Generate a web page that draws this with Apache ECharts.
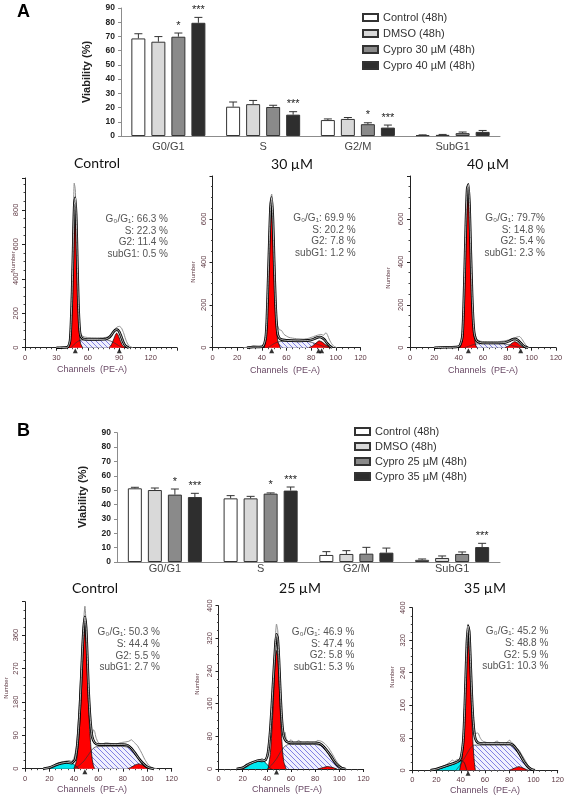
<!DOCTYPE html>
<html><head><meta charset="utf-8">
<script src="https://cdn.jsdelivr.net/npm/echarts@6/dist/echarts.min.js"></script>
<style>html,body{margin:0;padding:0;background:#fff}#c{width:567px;height:799px}</style>
</head><body><div id="c"></div><script>
// ---------------- Bar chart data ----------------
const phases = ['G0/G1', 'S', 'G2/M', 'SubG1'];
const namesA = ['Control (48h)', 'DMSO (48h)', 'Cypro 30 µM (48h)', 'Cypro 40 µM (48h)'];
const namesB = ['Control (48h)', 'DMSO (48h)', 'Cypro 25 µM (48h)', 'Cypro 35 µM (48h)'];
const yTicksBar = [0, 10, 20, 30, 40, 50, 60, 70, 80, 90];

const aControl = [68.6, 20.6, 11.2, 0.6];
const aControlErr = [3.3, 3.3, 0.8, 0.2];
const aDMSO = [66.3, 22.4, 12.0, 0.8];
const aDMSOErr = [3.6, 2.6, 1.0, 0.3];
const aCypro30 = [69.8, 20.4, 8.3, 2.0];
const aCypro30Err = [2.6, 1.2, 1.0, 0.8];
const aCypro40 = [79.6, 15.0, 5.9, 2.9];
const aCypro40Err = [3.8, 2.1, 1.8, 1.0];
const aStars30 = ['*', '', '*', ''];
const aStars40 = ['***', '***', '***', ''];

const bControl = [51.3, 44.3, 4.9, 1.5];
const bControlErr = [0.7, 1.9, 2.3, 0.6];
const bDMSO = [50.1, 44.3, 5.6, 2.8];
const bDMSOErr = [1.4, 1.4, 2.3, 1.4];
const bCypro25 = [46.9, 47.6, 5.8, 5.6];
const bCypro25Err = [3.9, 0.5, 4.4, 1.4];
const bCypro35 = [45.2, 49.7, 6.5, 10.4];
const bCypro35Err = [2.6, 2.5, 3.2, 2.6];
const bStars25 = ['*', '*', '', ''];
const bStars35 = ['***', '***', '', '***'];

// ---------------- Histogram data [channel, number] ----------------
// A - Control
const acRaw = [[30,0],[36,2],[40,4],[42,20],[44,120],[45,380],[46,700],[47,955],[48,920],[49,700],[50,400],[51,190],[52,110],[54,72],[57,62],[62,58],[68,57],[74,58],[79,62],[82,72],[84,92],[86,110],[88,120],[90,124],[92,115],[94,88],[96,50],[98,22],[100,8],[103,0]];
const acFit = [[30,0],[38,1],[41,4],[43,40],[44,150],[45,330],[46,580],[47,820],[48,870],[49,740],[50,480],[51,250],[52,120],[53,70],[55,52],[60,48],[70,48],[77,50],[80,58],[82,70],[84,88],[86,102],[88,105],[90,92],[92,62],[94,30],[96,10],[99,0]];
const acG1 = [[41,0],[43,30],[44,130],[45,310],[46,560],[47,790],[48,840],[49,700],[50,440],[51,210],[52,80],[53,25],[55,0]];
const acS = [[44,0],[47,20],[50,35],[53,44],[60,46],[70,46],[78,45],[82,38],[86,25],[90,10],[93,0]];
const acG2 = [[80,0],[82,12],[84,38],[86,70],[87.5,85],[89,72],[91,40],[93,14],[95,3],[96,0]];
const acMarks = [48, 90];
const acText = ['G₀/G₁: 66.3 %', 'S: 22.3 %', 'G2: 11.4 %', 'subG1: 0.5 %'];
// A - 30 µM
const a30Raw = [[25,0],[30,4],[33,8],[36,6],[40,5],[42,20],[44,110],[45,300],[46,520],[47,690],[48,716],[49,600],[50,380],[51,210],[52,120],[54,85],[56,80],[58,62],[62,48],[68,42],[74,40],[78,44],[82,52],[85,58],[88,62],[90,58],[92,70],[93,62],[95,35],[97,15],[99,5],[101,0]];
const a30Fit = [[28,0],[33,3],[38,3],[41,6],[43,40],[44,120],[45,290],[46,480],[47,650],[48,700],[49,600],[50,400],[51,220],[52,110],[53,60],[55,40],[60,34],[70,32],[78,34],[82,40],[85,48],[87,50],[89,46],[91,36],[93,20],[95,8],[97,0]];
const a30G1 = [[42,0],[44,90],[45,260],[46,450],[47,600],[48,620],[49,540],[50,360],[51,190],[52,80],[53,30],[55,0]];
const a30S = [[45,0],[48,12],[51,22],[54,28],[60,30],[70,30],[78,28],[82,22],[86,14],[90,6],[94,0]];
const a30G2 = [[78,0],[81,8],[84,22],[86.5,32],[89,26],[92,12],[95,3],[96,0]];
const a30Marks = [48, 86, 88.5];
const a30Text = ['G₀/G₁: 69.9 %', 'S: 20.2 %', 'G2: 7.8 %', 'subG1: 1.2 %'];
// A - 40 µM
const a40Raw = [[20,0],[30,3],[38,4],[41,12],[43,60],[44,180],[45,380],[46,600],[47,750],[48,766],[49,660],[50,450],[51,260],[52,130],[53,70],[55,40],[58,30],[65,28],[72,28],[78,32],[82,38],[85,44],[88,50],[90,52],[92,40],[94,22],[96,8],[98,0]];
const a40Fit = [[20,0],[30,2],[38,3],[41,10],[43,50],[44,170],[45,370],[46,590],[47,740],[48,760],[49,650],[50,440],[51,250],[52,120],[53,60],[55,30],[60,22],[70,22],[78,24],[82,32],[85,40],[87,40],[89,34],[91,22],[93,10],[95,3],[97,0]];
const a40G1 = [[41,0],[43,40],[44,160],[45,360],[46,580],[47,730],[48,745],[49,640],[50,430],[51,240],[52,110],[53,45],[54,12],[55,0]];
const a40S = [[45,0],[49,8],[53,16],[58,19],[70,19],[78,17],[82,13],[86,7],[90,2],[92,0]];
const a40G2 = [[78,0],[81,8],[84,22],[86,28],[88,24],[90,14],[92,5],[94,0]];
const a40Marks = [48, 91];
const a40Text = ['G₀/G₁: 79.7%', 'S: 14.8 %', 'G2: 5.4 %', 'subG1: 2.3 %'];
// B - Control
const bcRaw = [[15,0],[20,3],[23,8],[26,14],[30,18],[33,20],[36,22],[38,20],[40,28],[42,60],[44,150],[46,280],[48,400],[49,438],[50,390],[51,290],[52,190],[53,130],[54,100],[55,95],[56,105],[57,100],[58,85],[60,70],[63,66],[66,70],[70,68],[74,66],[78,70],[82,72],[85,74],[87,78],[89,72],[92,62],[95,45],[98,25],[101,10],[104,3],[108,0]];
const bcFit = [[15,0],[20,3],[25,10],[30,15],[34,17],[38,15],[41,25],[43,70],[45,170],[47,320],[48,380],[49,409],[50,380],[51,300],[52,210],[53,150],[54,110],[55,85],[57,70],[60,65],[70,65],[80,65],[84,63],[87,55],[90,42],[93,28],[96,16],[99,7],[102,2],[105,0]];
const bcG1 = [[40,0],[42,20],[44,80],[46,200],[47,280],[48,350],[49,375],[50,340],[51,260],[52,170],[53,100],[54,55],[55,25],[56,8],[57,0]];
const bcS = [[40,0],[44,8],[48,20],[52,38],[55,52],[58,59],[70,60],[80,60],[85,57],[88,48],[91,35],[94,20],[97,8],[100,0]];
const bcG2 = [[84,0],[87,4],[90,10],[93,13],[96,10],[99,4],[102,0]];
const bcSub = [[20,0],[24,5],[28,12],[31,16],[34,17],[37,15],[40,12],[42,5],[44,0]];
const bcMarks = [49];
const bcText = ['G₀/G₁: 50.3 %', 'S: 44.4 %', 'G2: 5.5 %', 'subG1: 2.7 %'];
// B - 25 µM
const b25Raw = [[15,0],[20,3],[23,12],[25,8],[28,15],[31,20],[34,22],[36,26],[38,22],[40,30],[42,60],[44,140],[46,260],[47,320],[48,355],[49,340],[50,280],[51,200],[52,130],[53,95],[54,80],[55,90],[56,75],[58,65],[60,72],[63,60],[66,70],[70,64],[74,66],[78,60],[82,70],[85,68],[88,62],[91,52],[94,38],[97,22],[100,10],[103,3],[106,0]];
const b25Fit = [[15,0],[20,3],[25,12],[30,18],[33,21],[36,20],[39,22],[41,40],[43,100],[45,200],[47,300],[48,330],[49,320],[50,270],[51,200],[52,140],[53,100],[54,80],[56,68],[60,64],[70,64],[80,64],[84,62],[87,55],[90,44],[93,32],[96,18],[99,8],[102,2],[105,0]];
const b25G1 = [[41,0],[43,40],[45,140],[46,210],[47,270],[48,290],[49,275],[50,220],[51,150],[52,90],[53,45],[54,18],[56,0]];
const b25S = [[40,0],[44,10],[48,25],[52,45],[55,56],[58,60],[70,60],[80,60],[85,57],[88,48],[91,36],[94,22],[97,10],[100,0]];
const b25G2 = [[82,0],[86,3],[90,6],[94,4],[98,0]];
const b25Sub = [[20,0],[24,6],[28,14],[31,19],[34,22],[37,20],[40,12],[42,4],[44,0]];
const b25Marks = [48];
const b25Text = ['G₀/G₁: 46.9 %', 'S: 47.4 %', 'G2: 5.8 %', 'subG1: 5.3 %'];
// B - 35 µM
const b35Raw = [[15,0],[20,3],[24,8],[28,14],[31,20],[33,25],[35,22],[37,27],[39,24],[40,30],[42,70],[43,130],[44,210],[45,300],[46,360],[47,345],[48,280],[49,200],[50,140],[51,110],[52,90],[54,92],[56,80],[58,72],[62,68],[66,66],[70,72],[74,62],[78,68],[80,74],[83,66],[86,56],[88,50],[90,40],[93,25],[96,10],[99,3],[102,0]];
const b35Fit = [[15,0],[20,3],[25,8],[30,13],[35,18],[38,22],[40,30],[42,70],[43,130],[44,220],[45,310],[46,355],[47,340],[48,270],[49,190],[50,130],[51,95],[52,78],[54,68],[58,66],[70,66],[80,66],[83,62],[86,52],[89,38],[92,22],[95,10],[98,3],[101,0]];
const b35G1 = [[39,0],[41,30],[42,80],[43,150],[44,230],[45,295],[46,318],[47,295],[48,220],[49,140],[50,70],[51,25],[52,0]];
const b35S = [[36,0],[40,15],[44,35],[48,55],[51,62],[60,62],[70,62],[80,62],[83,58],[86,48],[89,34],[92,20],[95,8],[98,0]];
const b35G2 = [[80,0],[84,5],[88,9],[91,6],[94,2],[96,0]];
const b35Sub = [[18,0],[22,3],[26,7],[30,11],[34,15],[38,21],[41,24],[43,18],[45,0]];
const b35Marks = [46];
const b35Text = ['G₀/G₁: 45.2 %', 'S: 48.8 %', 'G2: 5.9 %', 'subG1: 10.3 %'];

// ---------------- Styles ----------------
const barColors = ['#ffffff', '#d9d9d9', '#8a8a8a', '#2e2e2e'];
const FONT = '"Liberation Sans", Arial, sans-serif';

function hatchPattern() {
  const c = document.createElement('canvas');
  c.width = 5; c.height = 5;
  const g = c.getContext('2d');
  g.fillStyle = '#f0f0fd'; g.fillRect(0, 0, 5, 5);
  g.strokeStyle = '#6464dc'; g.lineWidth = 0.8;
  g.beginPath();
  g.moveTo(0, 0); g.lineTo(5, 5);
  g.moveTo(-2.5, 2.5); g.lineTo(2.5, 7.5);
  g.moveTo(2.5, -2.5); g.lineTo(7.5, 2.5);
  g.stroke();
  return c;
}
const hatch = hatchPattern();

const chart = echarts.init(document.getElementById('c'), null, {renderer: 'canvas'});

// Grids: 0 bar A, 1 bar B, 2..4 hist A, 5..7 hist B
const grids = [
  {left: 121, top: 8, width: 379, height: 128},
  {left: 117, top: 432.7, width: 383, height: 129.3},
  {left: 25, top: 178, width: 151.9, height: 169.7},
  {left: 212.5, top: 176, width: 148, height: 171.7},
  {left: 410, top: 176, width: 146, height: 171.7},
  {left: 25, top: 601.7, width: 146.7, height: 167},
  {left: 218.5, top: 605.7, width: 145, height: 163.3},
  {left: 412.3, top: 607.7, width: 147, height: 162.6}
];

function barX(gi, margin) {
  return {type: 'category', gridIndex: gi, data: phases,
    axisLine: {lineStyle: {color: '#8c8c8c'}},
    axisTick: {alignWithLabel: true, length: 3, lineStyle: {color: '#8c8c8c'}},
    axisLabel: {fontSize: 11, color: '#444', margin: margin, fontFamily: FONT}};
}
function barY(gi) {
  return {type: 'value', gridIndex: gi, min: yTicksBar[0], max: yTicksBar[yTicksBar.length - 1], interval: 10,
    axisLine: {show: true, lineStyle: {color: '#8c8c8c'}},
    axisTick: {show: true, length: 3, lineStyle: {color: '#8c8c8c'}},
    splitLine: {show: false},
    axisLabel: {fontSize: 8.5, fontWeight: 'bold', color: '#222', margin: 6, fontFamily: FONT}};
}
function histX(gi, max, interval, minorSplit) {
  return {type: 'value', gridIndex: gi, min: 0, max: max, interval: interval,
    axisLine: {show: true, onZero: false, lineStyle: {color: '#222', width: 1}},
    axisTick: {show: true, length: 3, lineStyle: {color: '#222'}},
    minorTick: {show: true, splitNumber: minorSplit, length: 1.5, lineStyle: {color: '#444'}},
    splitLine: {show: false}, minorSplitLine: {show: false},
    axisLabel: {fontSize: 7.5, color: '#5e3a44', margin: 6, showMaxLabel: max % interval === 0, fontFamily: FONT}};
}
function histY(gi, max, interval, showMax) {
  return {type: 'value', gridIndex: gi, min: 0, max: max, interval: interval,
    axisLine: {show: true, onZero: false, lineStyle: {color: '#222', width: 1}},
    axisTick: {show: true, length: 3, lineStyle: {color: '#222'}},
    minorTick: {show: true, splitNumber: 4, length: 1.5, lineStyle: {color: '#444'}},
    splitLine: {show: false}, minorSplitLine: {show: false},
    axisLabel: {fontSize: 7.5, color: '#5e3a44', margin: 5, rotate: 90, showMaxLabel: showMax, fontFamily: FONT}};
}

const xAxes = [barX(0, 5), barX(1, 1),
  histX(2, 145, 30, 6), histX(3, 120, 20, 4), histX(4, 120, 20, 4),
  histX(5, 120, 20, 4), histX(6, 120, 20, 4), histX(7, 120, 20, 4)];
const yAxes = [barY(0), barY(1),
  histY(2, 985, 200, false), histY(3, 800, 200, false), histY(4, 800, 200, false),
  histY(5, 450, 90, false), histY(6, 400, 80, true), histY(7, 400, 80, true)];

const offsets = [-30, -10, 10, 30];

function barSeries(gi, names, vals) {
  return vals.map((v, k) => ({
    type: 'bar', name: names[k], xAxisIndex: gi, yAxisIndex: gi, data: v,
    barWidth: 14, barGap: '43%', silent: true,
    itemStyle: {color: barColors[k], borderColor: '#333', borderWidth: 1}
  }));
}
function errSeries(gi, vals, errs, stars, k) {
  return {
    type: 'custom', xAxisIndex: gi, yAxisIndex: gi, silent: true, z: 5,
    data: vals.map((v, i) => [i, v, v + errs[i]]),
    renderItem: function (params, api) {
      const base = api.coord([api.value(0), api.value(1)]);
      const top = api.coord([api.value(0), api.value(2)]);
      const x = base[0] + offsets[k];
      const ch = [
        {type: 'line', shape: {x1: x, y1: base[1], x2: x, y2: top[1]}, style: {stroke: '#333', lineWidth: 1}},
        {type: 'line', shape: {x1: x - 4, y1: top[1], x2: x + 4, y2: top[1]}, style: {stroke: '#333', lineWidth: 1}}
      ];
      const s = stars ? stars[params.dataIndex] : '';
      if (s) ch.push({type: 'text', style: {text: s, x: x, y: top[1] - 2, textAlign: 'center', textVerticalAlign: 'bottom', fontSize: 11, fontFamily: FONT, fill: '#222'}});
      return {type: 'group', children: ch};
    }
  };
}

function histSeries(gi, d) {
  const base = {type: 'line', xAxisIndex: gi, yAxisIndex: gi, showSymbol: false, symbol: 'none', silent: true, smooth: 0.2};
  const out = [];
  out.push(Object.assign({}, base, {data: d.S, lineStyle: {color: '#333', width: 0.7}, areaStyle: {color: {image: hatch, repeat: 'repeat'}, opacity: 1}}));
  if (d.sub) out.push(Object.assign({}, base, {data: d.sub, lineStyle: {color: '#222', width: 0.8}, areaStyle: {color: '#00e8f0', opacity: 1}}));
  out.push(Object.assign({}, base, {data: d.G1, lineStyle: {color: '#111', width: 0.8}, areaStyle: {color: '#ff0000', opacity: 1}}));
  out.push(Object.assign({}, base, {data: d.G2, lineStyle: {color: '#111', width: 0.8}, areaStyle: {color: '#ff0000', opacity: 1}}));
  out.push(Object.assign({}, base, {data: d.raw, lineStyle: {color: '#8d8d8d', width: 1}}));
  out.push(Object.assign({}, base, {data: d.fit, lineStyle: {color: '#000', width: 2.6}}));
  out.push(Object.assign({}, base, {data: d.fit, lineStyle: {color: '#ffffff', width: 0.7}}));
  out.push({type: 'scatter', xAxisIndex: gi, yAxisIndex: gi, silent: true, clip: false,
    data: d.marks.map(m => [m, 0]), symbol: 'triangle', symbolSize: [5, 5], symbolOffset: [0, 3],
    itemStyle: {color: '#000'}, z: 6});
  return out;
}

const series = [].concat(
  barSeries(0, namesA, [aControl, aDMSO, aCypro30, aCypro40]),
  errSeries(0, aControl, aControlErr, null, 0),
  errSeries(0, aDMSO, aDMSOErr, null, 1),
  errSeries(0, aCypro30, aCypro30Err, aStars30, 2),
  errSeries(0, aCypro40, aCypro40Err, aStars40, 3),
  barSeries(1, namesB, [bControl, bDMSO, bCypro25, bCypro35]),
  errSeries(1, bControl, bControlErr, null, 0),
  errSeries(1, bDMSO, bDMSOErr, null, 1),
  errSeries(1, bCypro25, bCypro25Err, bStars25, 2),
  errSeries(1, bCypro35, bCypro35Err, bStars35, 3),
  histSeries(2, {raw: acRaw, fit: acFit, G1: acG1, S: acS, G2: acG2, marks: acMarks}),
  histSeries(3, {raw: a30Raw, fit: a30Fit, G1: a30G1, S: a30S, G2: a30G2, marks: a30Marks}),
  histSeries(4, {raw: a40Raw, fit: a40Fit, G1: a40G1, S: a40S, G2: a40G2, marks: a40Marks}),
  histSeries(5, {raw: bcRaw, fit: bcFit, G1: bcG1, S: bcS, G2: bcG2, sub: bcSub, marks: bcMarks}),
  histSeries(6, {raw: b25Raw, fit: b25Fit, G1: b25G1, S: b25S, G2: b25G2, sub: b25Sub, marks: b25Marks}),
  histSeries(7, {raw: b35Raw, fit: b35Fit, G1: b35G1, S: b35S, G2: b35G2, sub: b35Sub, marks: b35Marks})
);

// ---------------- Text elements ----------------
const gfx = [];
function txt(t, x, y, opt) {
  gfx.push(Object.assign({type: 'text', x: x, y: y, rotation: opt.rot || 0, silent: true,
    style: {text: t, textAlign: opt.align || 'center', textVerticalAlign: 'middle',
      font: opt.font, fill: opt.color || '#333'}}));
}
txt('A', 17, 12, {align: 'left', font: 'bold 18px ' + FONT, color: '#000'});
txt('B', 17, 431, {align: 'left', font: 'bold 18px ' + FONT, color: '#000'});
txt('Viability (%)', 87, 72, {rot: Math.PI / 2, font: 'bold 11px ' + FONT, color: '#222'});
txt('Viability (%)', 83, 497, {rot: Math.PI / 2, font: 'bold 11px ' + FONT, color: '#222'});

const titleFont = '14px Lato, "Open Sans", sans-serif';
const titles = [['Control', 97, 163], ['30 µM', 292, 164], ['40 µM', 488, 164],
  ['Control', 95, 588], ['25 µM', 300, 588], ['35 µM', 485, 588]];
titles.forEach(t => txt(t[0], t[1], t[2], {font: titleFont, color: '#111'}));

const chanPos = [[92, 370], [285, 371], [483, 371], [92, 790], [287, 790], [485, 791]];
chanPos.forEach(p => txt('Channels  (PE-A)', p[0], p[1], {font: '9px ' + FONT, color: '#6a4a66'}));
const numPos = [[13, 262], [193, 272], [388, 278], [6, 688], [197, 684], [392, 677]];
numPos.forEach(p => txt('Number', p[0], p[1], {rot: Math.PI / 2, font: '6px ' + FONT, color: '#5e3a44'}));

const annots = [[acText, 168, 219.3], [a30Text, 355.7, 218.3], [a40Text, 545, 218.3],
  [bcText, 160, 632.7], [b25Text, 354.3, 632.3], [b35Text, 548.3, 631.7]];
annots.forEach(a => a[0].forEach((t, i) => txt(t, a[1], a[2] + i * 11.6, {align: 'right', font: '10px ' + FONT, color: '#555'})));

const option = {
  animation: false,
  backgroundColor: '#ffffff',
  grid: grids,
  xAxis: xAxes,
  yAxis: yAxes,
  legend: [
    {data: namesA, orient: 'vertical', left: 357, top: 7, itemWidth: 15, itemHeight: 7, itemGap: 5,
      icon: 'rect', selectedMode: false, textStyle: {fontSize: 11, color: '#333', fontFamily: FONT}},
    {data: namesB, orient: 'vertical', left: 349, top: 421, itemWidth: 15, itemHeight: 7, itemGap: 4,
      icon: 'rect', selectedMode: false, textStyle: {fontSize: 11, color: '#333', fontFamily: FONT}}
  ],
  graphic: {elements: gfx},
  series: series
};
chart.setOption(option);
</script></body></html>
